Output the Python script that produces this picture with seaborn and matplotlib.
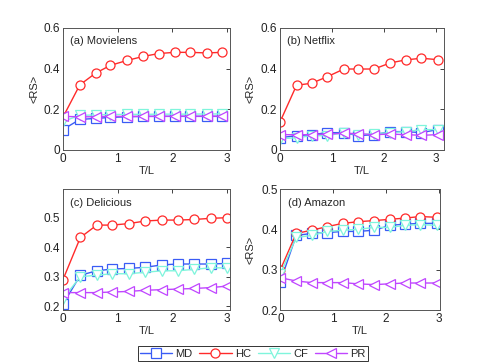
import numpy as np
import pandas as pd
import matplotlib
matplotlib.use("Agg")
import matplotlib.pyplot as plt
import seaborn as sns

# data
methods = ["MD", "HC", "CF", "PR"]
panel_names = ["(a) Movielens", "(b) Netflix", "(c) Delicious", "(d) Amazon"]

x_movielens = [0, 0.31, 0.6, 0.87, 1.17, 1.47, 1.75, 2.04, 2.33, 2.63, 2.9]
x_netflix = [0, 0.32, 0.61, 0.91, 1.23, 1.5, 1.81, 2.12, 2.42, 2.72, 3.03]
x_delicious = [0, 0.32, 0.62, 0.9, 1.2, 1.51, 1.81, 2.1, 2.4, 2.7, 3.0]
x_amazon = [0, 0.3, 0.59, 0.89, 1.18, 1.46, 1.78, 2.07, 2.35, 2.65, 2.97]

movielens_md = [0.10, 0.15, 0.155, 0.16, 0.163, 0.165, 0.165, 0.165, 0.165, 0.165, 0.165]
movielens_hc = [0.16, 0.32, 0.378, 0.416, 0.44, 0.46, 0.474, 0.48, 0.48, 0.477, 0.48]
movielens_cf = [0.14, 0.17, 0.172, 0.174, 0.175, 0.175, 0.176, 0.176, 0.176, 0.177, 0.177]
movielens_pr = [0.165, 0.163, 0.163, 0.165, 0.165, 0.165, 0.165, 0.166, 0.166, 0.166, 0.166]

netflix_md = [0.06, 0.07, 0.075, 0.085, 0.085, 0.07, 0.075, 0.09, 0.09, 0.085, 0.1]
netflix_hc = [0.136, 0.318, 0.328, 0.36, 0.398, 0.398, 0.398, 0.428, 0.443, 0.451, 0.444]
netflix_cf = [0.055, 0.06, 0.07, 0.07, 0.085, 0.075, 0.08, 0.085, 0.09, 0.1, 0.1]
netflix_pr = [0.075, 0.075, 0.075, 0.078, 0.082, 0.08, 0.075, 0.078, 0.075, 0.072, 0.075]

delicious_md = [0.206, 0.305, 0.32, 0.326, 0.328, 0.332, 0.34, 0.343, 0.343, 0.343, 0.345]
delicious_hc = [0.289, 0.433, 0.475, 0.475, 0.48, 0.489, 0.492, 0.492, 0.494, 0.498, 0.5]
delicious_cf = [0.225, 0.3, 0.305, 0.31, 0.31, 0.315, 0.32, 0.32, 0.325, 0.33, 0.33]
delicious_pr = [0.246, 0.246, 0.246, 0.248, 0.25, 0.254, 0.256, 0.258, 0.26, 0.263, 0.268]

amazon_md = [0.27, 0.385, 0.39, 0.392, 0.395, 0.395, 0.398, 0.41, 0.413, 0.415, 0.415]
amazon_hc = [0.30, 0.39, 0.398, 0.407, 0.415, 0.419, 0.422, 0.425, 0.428, 0.432, 0.43]
amazon_cf = [0.29, 0.38, 0.385, 0.395, 0.398, 0.40, 0.405, 0.405, 0.41, 0.412, 0.41]
amazon_pr = [0.28, 0.272, 0.268, 0.268, 0.268, 0.265, 0.263, 0.265, 0.267, 0.267, 0.267]

panels = [
    (x_movielens, [movielens_md, movielens_hc, movielens_cf, movielens_pr]),
    (x_netflix, [netflix_md, netflix_hc, netflix_cf, netflix_pr]),
    (x_delicious, [delicious_md, delicious_hc, delicious_cf, delicious_pr]),
    (x_amazon, [amazon_md, amazon_hc, amazon_cf, amazon_pr]),
]

colors = {"MD": "#3a5cf5", "HC": "#ff2a2a", "CF": "#7ff5dc", "PR": "#c046ff"}
markers = {"MD": "s", "HC": "o", "CF": "v", "PR": "<"}

sns.set_style("white")
plt.rcParams["font.family"] = ["Liberation Sans", "DejaVu Sans"]
plt.rcParams["font.size"] = 7.5

fig = plt.figure(figsize=(4.91, 3.63), dpi=100)

# axes rectangles in figure fractions
rects = [
    [0.128, 0.587, 0.340, 0.336],
    [0.570, 0.587, 0.334, 0.336],
    [0.128, 0.146, 0.340, 0.333],
    [0.571, 0.146, 0.325, 0.333],
]
xlims = [(0, 3.05), (0, 3.15), (0, 3.05), (0, 3.02)]
ylims = [(0, 0.6), (0, 0.6), (0.187, 0.597), (0.2, 0.5)]
yticks = [[0, 0.2, 0.4, 0.6], [0, 0.2, 0.4, 0.6], [0.2, 0.3, 0.4, 0.5], [0.2, 0.3, 0.4, 0.5]]
yticklabels = [["0", "0.2", "0.4", "0.6"], ["0", "0.2", "0.4", "0.6"],
               ["0.2", "0.3", "0.4", "0.5"], ["0.2", "0.3", "0.4", "0.5"]]

for i, (xs, series) in enumerate(panels):
    ax = fig.add_axes(rects[i])
    for m, ys in zip(methods, series):
        df = pd.DataFrame({"x": xs, "y": ys})
        sns.lineplot(data=df, x="x", y="y", ax=ax, color=colors[m], marker=markers[m],
                     markersize=6.5, markerfacecolor="white", markeredgecolor=colors[m],
                     markeredgewidth=0.9, linewidth=1.0, label=m, legend=False)
    ax.set_xlim(xlims[i])
    ax.set_ylim(ylims[i])
    ax.set_xticks([0, 1, 2, 3])
    ax.set_xticklabels(["0", "1", "2", "3"])
    ax.set_yticks(yticks[i])
    ax.set_yticklabels(yticklabels[i])
    ax.tick_params(direction="in", length=3, width=0.6, top=True, right=True,
                   labelsize=8.5, colors="#222222", pad=2)
    for s in ax.spines.values():
        s.set_color("#555555")
        s.set_linewidth(0.7)
    ax.set_xlabel("T/L", fontsize=8, labelpad=1)
    ax.set_ylabel("<RS>", fontsize=8, labelpad=3 if i % 2 == 0 else 4)
    if i == 2:
        ax.set_ylabel("")
    ax.text(0.045, 0.93, panel_names[i], transform=ax.transAxes, fontsize=8,
            va="top", ha="left")

handles, labels = fig.axes[0].get_legend_handles_labels()
leg = fig.legend(handles, labels, loc="lower center", bbox_to_anchor=(0.515, 0.0),
                 ncol=4, frameon=True, fancybox=False, fontsize=8,
                 handlelength=2.9, columnspacing=0.6, handletextpad=0.3,
                 borderpad=0.2, borderaxespad=0.2)
leg.get_frame().set_edgecolor("black")
leg.get_frame().set_linewidth(0.7)

fig.savefig("out.png", dpi=100)
